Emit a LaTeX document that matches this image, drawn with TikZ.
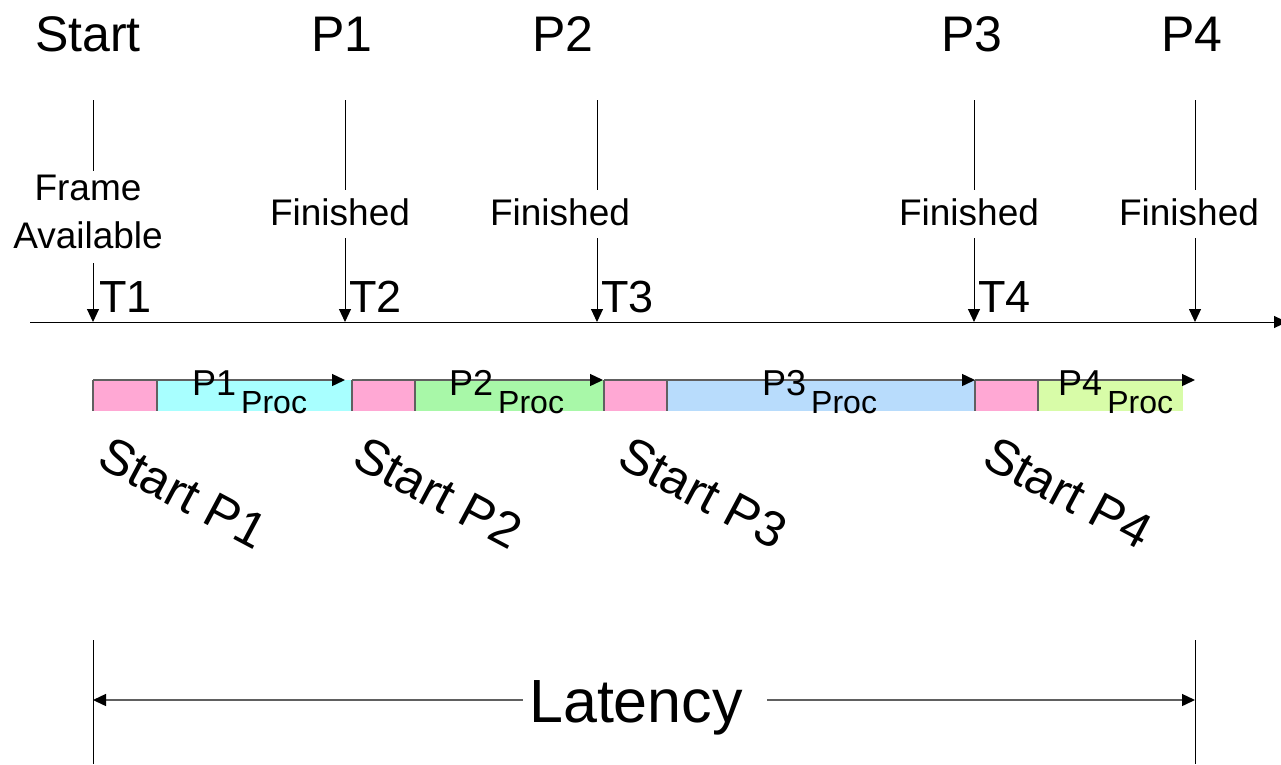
\documentclass[tikz,border=0pt]{standalone}
\usepackage{fontspec}
\setmainfont{Liberation Sans}
\usetikzlibrary{arrows.meta}
\definecolor{pinkc}{HTML}{FFA8D4}
\definecolor{cyanc}{HTML}{A8FFFF}
\definecolor{greenc}{HTML}{A8F8A8}
\definecolor{bluec}{HTML}{B8DCFC}
\definecolor{limec}{HTML}{D8FCA8}
\definecolor{edgegray}{HTML}{606060}
\begin{document}
\begin{tikzpicture}[x=1pt,y=-1pt,
  tip/.style={-{Triangle[length=13pt,width=12pt,color=black]}},
  vline/.style={draw=black,line width=1pt},
  grayline/.style={draw=edgegray,line width=1.4pt},
  toplab/.style={font=\fontsize{50}{50}\selectfont, anchor=base, inner sep=0pt},
  finlab/.style={font=\fontsize{37}{37}\selectfont, anchor=base, inner xsep=0pt, inner ysep=9pt, text height=26pt, text depth=4pt},
  tlab/.style={font=\fontsize{45}{45}\selectfont, anchor=base west, inner sep=0pt},
  startlab/.style={font=\fontsize{50}{50}\selectfont, rotate=-28, anchor=center, inner sep=0pt},
  seg/.style={draw=none, minimum height=31pt, inner sep=0pt, anchor=north west},
  proclab/.style={font=\fontsize{36}{36}\selectfont, anchor=base west, inner sep=0pt}
]
\useasboundingbox (0,0) rectangle (1281,764);
\clip (0,0) rectangle (1281,764);

% top labels
\node[toplab] (lS) at (88,51) {Start};
\node[toplab] (lP1) at (342,51) {P1};
\node[toplab] (lP2) at (563,51) {P2};
\node[toplab] (lP3) at (972,51) {P3};
\node[toplab] (lP4) at (1192,51) {P4};

% coordinates of time lines
\coordinate (t0) at (93,100);  \coordinate (a0) at (93,322);
\coordinate (t1) at (345,100); \coordinate (a1) at (345,322);
\coordinate (t2) at (597,100); \coordinate (a2) at (597,322);
\coordinate (t3) at (974,100); \coordinate (a3) at (974,322);
\coordinate (t4) at (1195,100);\coordinate (a4) at (1195,322);

% mid labels
\node[font=\fontsize{37}{48}\selectfont, align=center, anchor=north, inner xsep=0pt, inner ysep=4pt] (fa) at (88,171) {Frame\\Available};
\node[finlab] (f1) at (340,225) {Finished};
\node[finlab] (f2) at (560,225) {Finished};
\node[finlab] (f3) at (969,225) {Finished};
\node[finlab] (f4) at (1189,225) {Finished};

% vertical lines
\draw[vline] (t0) -- (t0 |- fa.north);
\draw[vline,tip] ([yshift=-10pt]t0 |- fa.south) -- (a0);
\draw[vline] (t1) -- (t1 |- f1.north);
\draw[vline,tip] (t1 |- f1.south) -- (a1);
\draw[vline] (t2) -- (t2 |- f2.north);
\draw[vline,tip] (t2 |- f2.south) -- (a2);
\draw[vline] (t3) -- (t3 |- f3.north);
\draw[vline,tip] (t3 |- f3.south) -- (a3);
\draw[vline] (t4) -- (t4 |- f4.north);
\draw[vline,tip] (t4 |- f4.south) -- (a4);

% T labels
\node[tlab] (T1) at (99,312) {T1};
\node[tlab] (T2) at (349,312) {T2};
\node[tlab] (T3) at (601,312) {T3};
\node[tlab] (T4) at (978,312) {T4};

% axis
\coordinate (ax0) at (30,322);
\coordinate (ax1) at (1287,322);
\draw[vline,tip] (ax0) -- (ax1);

% bars
\node[seg, fill=pinkc, minimum width=64pt] (k1) at (93,380) {};
\node[seg, fill=cyanc, minimum width=194pt] (c1) at (157,380) {};
\node[seg, fill=pinkc, minimum width=63pt] (k2) at (352,380) {};
\node[seg, fill=greenc, minimum width=188pt] (c2) at (415,380) {};
\node[seg, fill=pinkc, minimum width=63pt] (k3) at (604,380) {};
\node[seg, fill=bluec, minimum width=308pt] (c3) at (667,380) {};
\node[seg, fill=pinkc, minimum width=63pt] (k4) at (975,380) {};
\node[seg, fill=limec, minimum width=145pt] (c4) at (1038,380) {};

\foreach \n in {k1,c1,k2,c2,k3,c3,k4,c4}{
  \draw[grayline] (\n.north west) -- (\n.south west);
}

\coordinate (e1) at (345,380);
\coordinate (e2) at (603,380);
\coordinate (e3) at (975,380);
\coordinate (e4) at (1195,380);
\draw[grayline,tip] (k1.north west) -- (e1);
\draw[grayline,tip] (k2.north west) -- (e2);
\draw[grayline,tip] (k3.north west) -- (e3);
\draw[grayline,tip] (k4.north west) -- (e4);

% proc labels
\node[proclab] (p1) at (192,395) {P1\hspace{5pt}\raisebox{-18pt}{\fontsize{32}{32}\selectfont Proc}};
\node[proclab] (p2) at (449,395) {P2\hspace{5pt}\raisebox{-18pt}{\fontsize{32}{32}\selectfont Proc}};
\node[proclab] (p3) at (762,395) {P3\hspace{5pt}\raisebox{-18pt}{\fontsize{32}{32}\selectfont Proc}};
\node[proclab] (p4) at (1058,395) {P4\hspace{5pt}\raisebox{-18pt}{\fontsize{32}{32}\selectfont Proc}};

% rotated start labels
\node[startlab] (s1) at (183,493) {Start P1};
\node[startlab] (s2) at (438,493) {Start P2};
\node[startlab] (s3) at (703,493) {Start P3};
\node[startlab] (s4) at (1068,493) {Start P4};

% latency
\coordinate (b0) at (93,640); \coordinate (b0e) at (93,764);
\coordinate (b1) at (1195,640); \coordinate (b1e) at (1195,764);
\draw[vline] (b0) -- (b0e);
\draw[vline] (b1) -- (b1e);
\coordinate (la) at (93,700);
\coordinate (lb) at (1195,700);
\node[font=\fontsize{61}{61}\selectfont, anchor=base, inner xsep=6pt] (lat) at (636,722) {Latency};
\draw[grayline,tip] (lat.west |- la) -- (la);
\draw[grayline,tip] ([xshift=18pt]lat.east |- lb) -- (lb);
\end{tikzpicture}
\end{document}
